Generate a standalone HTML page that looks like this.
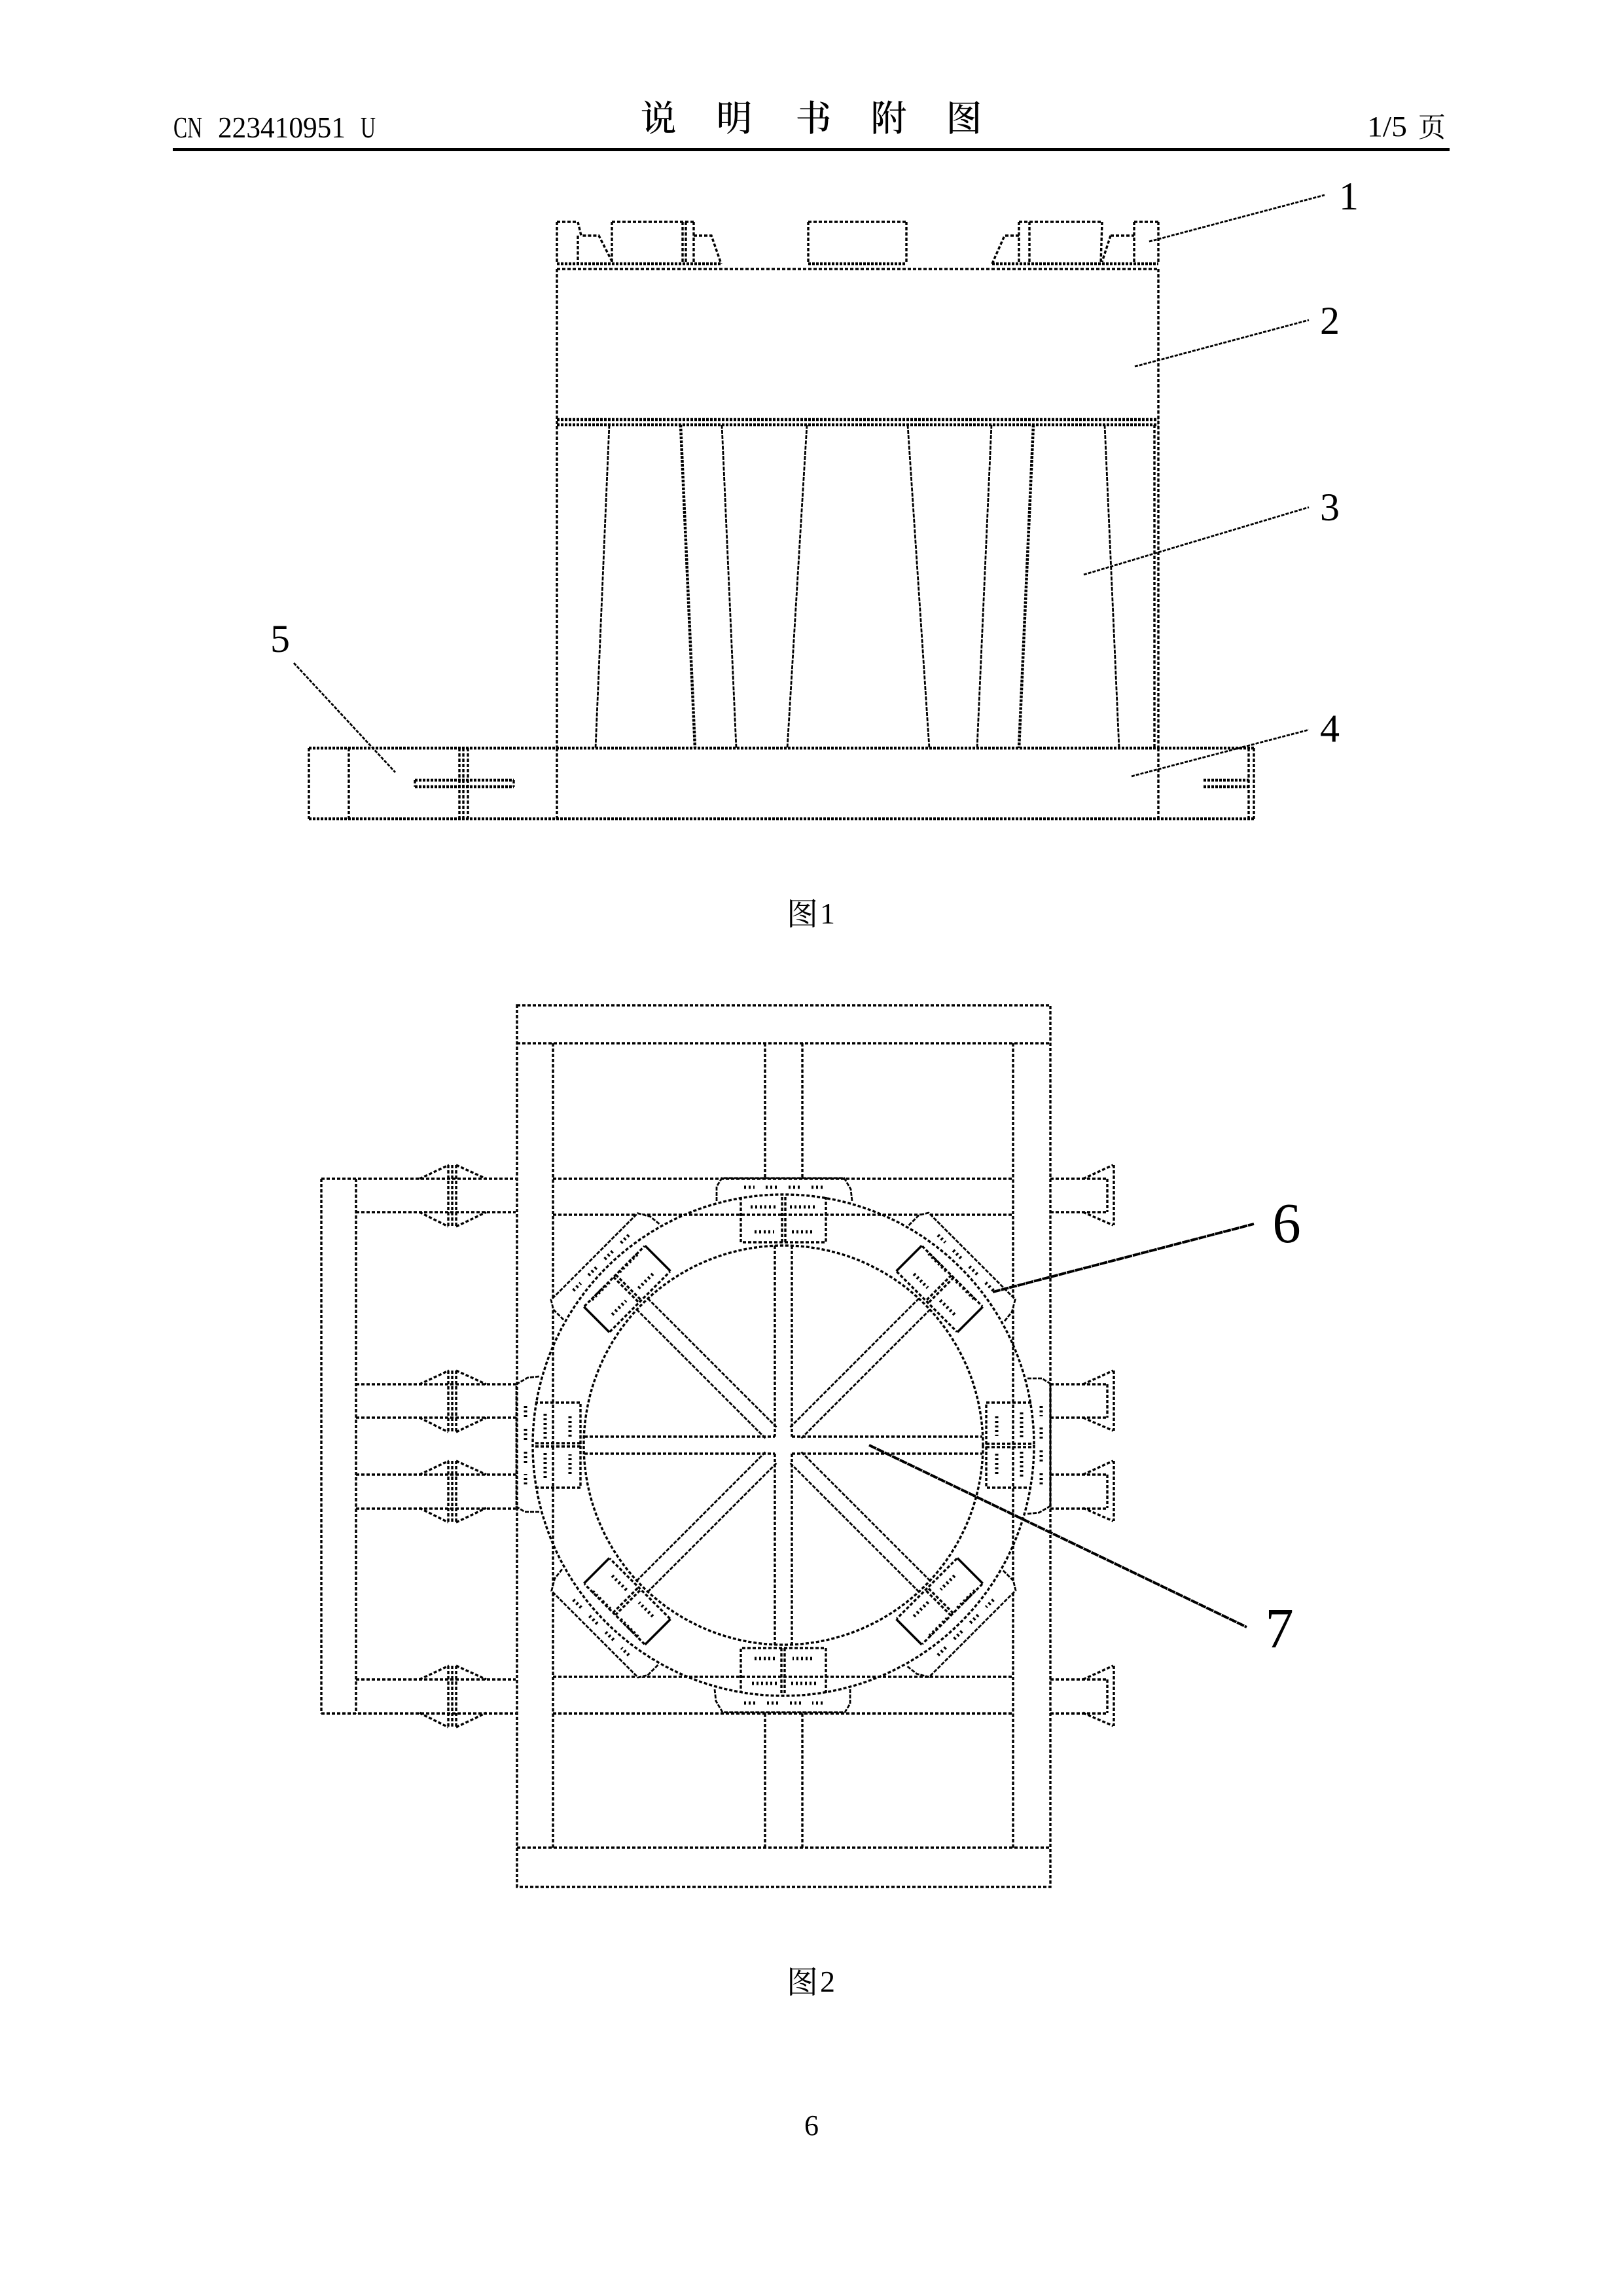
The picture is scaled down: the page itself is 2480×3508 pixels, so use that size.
<!DOCTYPE html>
<html lang="zh"><head><meta charset="utf-8"><title>说明书附图</title>
<style>
html,body{margin:0;padding:0;background:#fff}
svg{display:block}
.d{fill:none;stroke:#000;stroke-width:3.4;stroke-dasharray:5 3}
.z{fill:none;stroke:#000;stroke-width:4.5;stroke-dasharray:4 2}
.t{fill:none;stroke:#000;stroke-width:2.8;stroke-dasharray:6 2}
.l{fill:none;stroke:#000;stroke-width:2.8;stroke-dasharray:5 2}
.b{fill:none;stroke:#000;stroke-width:4;stroke-dasharray:12 1}
.r{fill:none;stroke:#000;stroke-width:5;stroke-dasharray:3 4}
.s{font-family:"Liberation Serif","Noto Serif CJK SC",serif;fill:#000}
.c{font-family:"Noto Serif CJK SC","Liberation Serif",serif;fill:#000}
</style></head><body>
<svg xmlns="http://www.w3.org/2000/svg" width="2480" height="3508" viewBox="0 0 2480 3508">
<rect width="2480" height="3508" fill="#fff"/>
<defs>
<g id="rows">
<path class="t" d="M-102-373V-395L-94-408H93L103-391L105-373"/>
<path class="r" d="M-60-394H-44M-27-394H-7M8-394H26M43-394H63"/>
<path class="r" d="M-50-364H-9M10-364H50"/>
<path class="r" d="M-44-326H-14M13-326H46"/>
</g>
<g id="modA">
<path class="d" d="M-65-379V-310H65V-379M-2-379V-310M3-379V-310"/>
<use href="#rows"/>
</g>
<g id="modD">
<path class="d" d="M-65-365H65M-65-310H65M-2-365V-310M3-365V-310"/>
<path fill="none" stroke="#000" stroke-width="3.5" d="M66-365V-310M-66-365V-310"/>
<use href="#rows"/>
</g>
<g id="flL">
<path class="d" d="M641 0L686-21M697-21L743 0M641 51L685 73M697 73L743 51"/>
<path class="d" d="M685-21V73M691-21V73M697-21V73"/>
</g>
<g id="flR">
<path class="d" d="M1655 0L1701-21M1655 51L1701 71"/>
<path class="d" d="M1692 0V51M1702-21V71"/>
</g>
</defs>

<!-- Header -->
<g class="s" font-size="46">
<text x="265" y="210" textLength="44" lengthAdjust="spacingAndGlyphs">CN</text>
<text x="333" y="210" textLength="195" lengthAdjust="spacingAndGlyphs">223410951</text>
<text x="551" y="210" textLength="23" lengthAdjust="spacingAndGlyphs">U</text>
</g>
<g class="c" font-size="55" font-weight="500" text-anchor="middle">
<text x="1006" y="200">说</text><text x="1122" y="200">明</text><text x="1243" y="200">书</text><text x="1358" y="200">附</text><text x="1473" y="200">图</text>
</g>
<text class="s" x="2089" y="208" font-size="44" textLength="61" lengthAdjust="spacingAndGlyphs">1/5</text>
<text class="c" x="2167" y="209" font-size="42">页</text>
<rect x="264" y="226" width="1951" height="5" fill="#000"/>

<!-- Fig 1: top details -->
<path class="d" d="M851 339H883M883 339L888 360H915L937 403M883 360V403M851 339V403"/>
<path class="d" d="M935 339H1060M935 339V403M1043 339V403M1048 339V403M1060 339V403M1060 360H1087L1102 403"/>
<path class="d" d="M1235 339H1385M1235 339V403M1385 339V403"/>
<path class="d" d="M1516 403L1535 360H1557M1557 339H1684M1557 339V403M1573 339V403M1684 339L1682 403M1697 360H1733M1697 360L1684 400M1733 339H1770M1733 339V403M1770 339V403"/>
<path class="z" d="M851 403H1103M1235 403H1385M1516 403H1770"/>
<path class="d" d="M851 411H1770"/>
<!-- Fig 1: body -->
<path class="d" d="M851 411V1143M1770 411V1143"/>
<path class="z" d="M851 641H1770M851 649H1770"/>
<path class="d" d="M1764 649V1143"/>
<path class="t" d="M931 649L910 1143M1103 649L1125 1143M1233 649L1203 1143M1387 649L1420 1143M1515 649L1493 1143M1688 649L1710 1143"/>
<path class="z" stroke-width="4" d="M1040 649L1062 1143M1579 649L1557 1143"/>
<!-- Fig 1: base -->
<path class="z" d="M472 1143H1916M472 1251H1916"/>
<path class="d" d="M472 1143V1251M533 1143V1251M702 1143V1251M708 1143V1251M715 1143V1251M851 1143V1251M1770 1143V1251M1908 1143V1251M1916 1143V1251"/>
<path class="z" d="M634 1192H785M634 1202H785M1839 1192H1908M1839 1202H1908"/>
<path class="d" d="M634 1192V1202M785 1192V1202"/>
<!-- Fig 1: leaders -->
<path class="l" d="M1756 369L2024 298M1734 560L2000 489M1656 878L2000 775M1729 1186L2000 1115M449 1013L604 1180"/>
<g class="s" font-size="60" text-anchor="middle">
<text x="2061" y="320">1</text><text x="2032" y="510">2</text><text x="2032" y="795">3</text><text x="2032" y="1133">4</text><text x="428" y="996">5</text>
</g>
<text class="c" x="1202" y="1413" font-size="48">图</text><text class="s" x="1253" y="1411" font-size="46">1</text>

<!-- Fig 2: frame -->
<path class="d" d="M790 1536H1605V2883H790ZM790 1594H1605M790 2823H1605M845 1594V2823M1548 1594V2823"/>
<path class="d" d="M1169 1594V1801M1226 1594V1801M1169 2618V2823M1226 2618V2823"/>
<path class="d" d="M845 1801H1548M845 1856H1548M845 2562H1548M845 2618H1548"/>
<!-- Fig 2: left rack -->
<path class="d" d="M491 1801V2618M544 1801V2618M491 1801H788M491 2618H788M544 1852H788M544 2115H788M544 2166H788M544 2253H788M544 2305H788M544 2566H788"/>
<use href="#flL" y="1801"/><use href="#flL" y="2115"/><use href="#flL" y="2253"/><use href="#flL" y="2566"/>
<!-- Fig 2: right stubs -->
<path class="d" d="M1605 1801H1692M1605 1852H1692M1605 2115H1692M1605 2166H1692M1605 2253H1692M1605 2305H1692M1605 2566H1692M1605 2618H1692"/>
<use href="#flR" y="1801"/><use href="#flR" y="2115"/><use href="#flR" y="2253"/><use href="#flR" y="2566"/>

<!-- Fig 2: diagonal bump masks -->
<g transform="translate(1197 2208)">
<g fill="#fff" stroke="none">
<path transform="rotate(45)" d="M-102-373V-395L-94-408H93L103-391L105-373Z"/>
<path transform="rotate(135)" d="M-102-373V-395L-94-408H93L103-391L105-373Z"/>
<path transform="rotate(225)" d="M-102-373V-395L-94-408H93L103-391L105-373Z"/>
<path transform="rotate(315)" d="M-102-373V-395L-94-408H93L103-391L105-373Z"/>
</g>
<!-- rings -->
<circle class="d" r="305"/>
<circle class="d" r="383"/>
<!-- spokes -->
<path class="d" d="M-13-305V-13M13-305V-13M-13 13V305M13 13V305M-304-13H-13M-304 13H-13M13-13H304M13 13H304"/>
<g class="t">
<path transform="rotate(45)" d="M-12-305V-25M12-305V-25"/>
<path transform="rotate(135)" d="M-12-305V-25M12-305V-25"/>
<path transform="rotate(225)" d="M-12-305V-25M12-305V-25"/>
<path transform="rotate(315)" d="M-12-305V-25M12-305V-25"/>
</g>
<!-- modules -->
<use href="#modA"/><use href="#modD" transform="rotate(45)"/><use href="#modA" transform="rotate(90)"/><use href="#modD" transform="rotate(135)"/>
<use href="#modA" transform="rotate(180)"/><use href="#modD" transform="rotate(225)"/><use href="#modA" transform="rotate(270)"/><use href="#modD" transform="rotate(315)"/>
</g>
<!-- Fig 2: leaders -->
<path class="b" d="M1517 1974L1916 1870M1328 2208L1905 2486"/>
<g class="s" font-size="87" text-anchor="middle">
<text x="1966" y="1898">6</text><text x="1955" y="2517">7</text>
</g>
<text class="c" x="1202" y="3045" font-size="48">图</text><text class="s" x="1253" y="3043" font-size="46">2</text>
<text class="s" x="1240" y="3262" font-size="44" text-anchor="middle">6</text>
</svg>
</body></html>
